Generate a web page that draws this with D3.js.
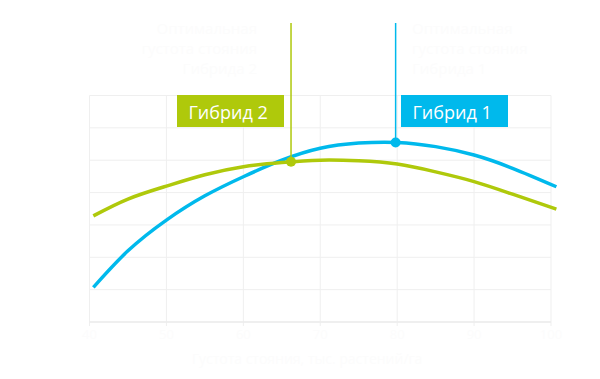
<!DOCTYPE html>
<html><head><meta charset="utf-8">
<script src="https://cdn.jsdelivr.net/npm/d3@7"></script>
<style>html,body{margin:0;padding:0;background:#fff;}svg{display:block;}</style>
</head><body>
<svg id="chart" width="600" height="379"></svg>
<script>
// Data (x in grid units 0..6, y in grid units 0..7)
const xTicks = [0, 1, 2, 3, 4, 5, 6];
const xTickLabels = ["40", "50", "60", "70", "80", "90", "100"];
const yTicks = [0, 1, 2, 3, 4, 5, 6, 7];
const xVals = [0.05, 0.5, 1, 1.5, 2, 2.5, 3, 3.5, 4, 4.5, 5, 5.5, 6.07];
const hybrid1 = [1.07, 2.2, 3.15, 3.9, 4.49, 5.0, 5.37, 5.53, 5.55, 5.42, 5.16, 4.75, 4.18];
const hybrid2 = [3.28, 3.8, 4.2, 4.55, 4.8, 4.93, 5.0, 4.98, 4.88, 4.64, 4.34, 3.95, 3.49];
const seriesNames = ["Гибрид 1", "Гибрид 2"];
const optimumX = [3.98, 2.62];
const optimumY = [5.55, 4.95];
const notes = [["Оптимальная", "густота стояния", "Гибрида 1"], ["Оптимальная", "густота стояния", "Гибрида 2"]];
const axisTitle = "Густота стояния, тыс. растений/га";

const colors = ["#00b9ec", "#afc90b"];
const svg = d3.select("#chart");
const x = d3.scaleLinear().domain([0, 6]).range([89.5, 551]);
const y = d3.scaleLinear().domain([0, 7]).range([322, 95.5]);

// grid
const g = svg.append("g");
g.selectAll(".hg").data(yTicks).join("line")
  .attr("x1", x(0)).attr("x2", x(6))
  .attr("y1", d => y(d)).attr("y2", d => y(d))
  .attr("stroke", "#efefef").attr("stroke-width", 1);
g.selectAll(".vg").data(xTicks).join("line")
  .attr("x1", d => x(d)).attr("x2", d => x(d))
  .attr("y1", y(7)).attr("y2", y(0) + 4)
  .attr("stroke", "#efefef").attr("stroke-width", 1);
g.append("line").attr("x1", x(0)).attr("x2", x(6)).attr("y1", y(0)).attr("y2", y(0))
  .attr("stroke", "#ececec").attr("stroke-width", 1.5);

// near-invisible texts
const faint = "#fcfcfc";
svg.selectAll(".tl").data(xTicks).join("text")
  .attr("x", d => x(d)).attr("y", 339).attr("text-anchor", "middle")
  .attr("font-family", "Open Sans").attr("font-size", 13).attr("fill", faint)
  .text((d, i) => xTickLabels[i]);
svg.append("text").attr("x", 307).attr("y", 364).attr("text-anchor", "middle")
  .attr("font-family", "Open Sans").attr("font-size", 14).attr("fill", faint).text(axisTitle);

const line = d3.line().x(d => x(d[0])).y(d => y(d[1])).curve(d3.curveNatural);
[hybrid1, hybrid2].forEach((vals, i) => {
  svg.append("path").datum(xVals.map((xv, j) => [xv, vals[j]]))
    .attr("d", line).attr("fill", "none")
    .attr("stroke", colors[i]).attr("stroke-width", 3.5);
});

// markers, leader lines, labels
const boxX = [401, 177];
[0, 1].forEach(i => {
  svg.append("line").attr("x1", x(optimumX[i])).attr("x2", x(optimumX[i]))
    .attr("y1", 23).attr("y2", y(optimumY[i]))
    .attr("stroke", colors[i]).attr("stroke-width", 1.5);
  svg.append("circle").attr("cx", x(optimumX[i])).attr("cy", y(optimumY[i]))
    .attr("r", 5).attr("fill", colors[i]);
  svg.append("rect").attr("x", boxX[i]).attr("y", 95).attr("width", 107).attr("height", 32)
    .attr("fill", colors[i]);
  svg.append("text").attr("x", boxX[i] + 11.5).attr("y", 119)
    .attr("font-family", "Open Sans").attr("font-size", 18).attr("fill", "#fff")
    .text(seriesNames[i]);
});
// top notes
const noteLines = [0, 1, 2];
svg.selectAll(".n1").data(noteLines).join("text")
  .attr("x", 412).attr("y", d => 34 + d * 20).attr("text-anchor", "start")
  .attr("font-family", "Open Sans").attr("font-size", 15).attr("fill", faint)
  .text(d => notes[0][d]);
svg.selectAll(".n2").data(noteLines).join("text")
  .attr("x", 257).attr("y", d => 34 + d * 20).attr("text-anchor", "end")
  .attr("font-family", "Open Sans").attr("font-size", 15).attr("fill", faint)
  .text(d => notes[1][d]);
</script>
</body></html>
